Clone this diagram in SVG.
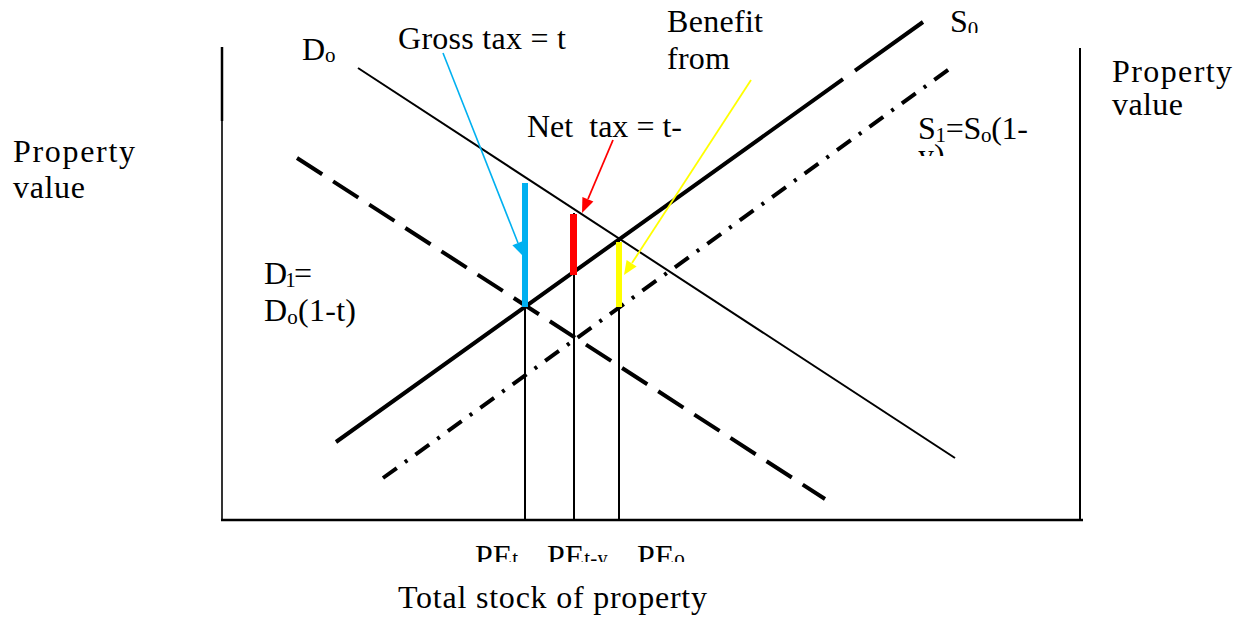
<svg xmlns="http://www.w3.org/2000/svg" width="1238" height="625" viewBox="0 0 1238 625">
<style>
text{font-family:"Liberation Serif","Times New Roman",serif;font-size:32px;fill:#000;white-space:pre}
.sub{font-size:21px}
.ax{stroke:#000;fill:none}
.crv{stroke:#000;fill:none;stroke-linecap:butt}
</style>
<defs>
<clipPath id="cS0"><rect x="930" y="0" width="80" height="33"/></clipPath>
<clipPath id="cS1"><rect x="900" y="100" width="160" height="56"/></clipPath>
<clipPath id="cPE"><rect x="450" y="530" width="280" height="32"/></clipPath>
<clipPath id="cTot"><rect x="380" y="575" width="360" height="41"/></clipPath>
</defs>
<rect width="1238" height="625" fill="#fff"/>
<g id="axes">
<line class="ax" x1="222" y1="47" x2="222" y2="121" stroke-width="2.5"/>
<line class="ax" x1="222" y1="121" x2="222" y2="521" stroke-width="1.6"/>
<line class="ax" x1="1080" y1="48" x2="1080" y2="521" stroke-width="2"/>
<line class="ax" x1="221" y1="520" x2="1083" y2="520" stroke-width="2.6"/>
</g>
<g id="connectors">
<line class="crv" id="D0" x1="358" y1="68" x2="955" y2="458" stroke-width="2"/>
<path class="crv" id="S0" d="M336,442 L843,79.2 M855,70.6 L923,22" stroke-width="4"/>
<line class="crv" id="D1" x1="297" y1="158" x2="825" y2="499" stroke-width="4" stroke-dasharray="30 13"/>
<line class="crv" id="S1" x1="383" y1="478" x2="955" y2="65" stroke-width="4" stroke-dasharray="17 10 3 10"/>
<line class="ax" x1="525" y1="183" x2="525" y2="520" stroke-width="2"/>
<line class="ax" x1="574" y1="213" x2="574" y2="520" stroke-width="2"/>
<line class="ax" x1="619" y1="241" x2="619" y2="520" stroke-width="2"/>
<rect x="522" y="183" width="6" height="124" fill="#00B0F0"/>
<rect x="570" y="214" width="7" height="61" fill="#FF0000"/>
<rect x="616" y="242" width="6" height="65" fill="#FFFF00"/>
<line x1="443" y1="53" x2="518" y2="243" stroke="#00B0F0" stroke-width="1.6"/>
<polygon points="523,256 512.4,245.2 523.6,240.8" fill="#00B0F0"/>
<line x1="613" y1="140" x2="588" y2="199" stroke="#FF0000" stroke-width="1.8"/>
<polygon points="582,213 593.4,201.5 582.4,196.9" fill="#FF0000"/>
<line x1="751" y1="80" x2="632" y2="263" stroke="#FFFF00" stroke-width="1.8"/>
<polygon points="624,275 636.6,266.6 626.6,260" fill="#FFFF00"/>
</g>
<g id="labels">
<text x="302" y="60">D<tspan class="sub" dy="2">o</tspan></text>
<text x="398" y="49" textLength="168">Gross tax = t</text>
<text x="667" y="32" textLength="96">Benefit</text>
<text x="667" y="69" textLength="63">from</text>
<text x="527" y="137" textLength="155">Net  tax = t-</text>
<g clip-path="url(#cS0)"><text x="950" y="32">S<tspan class="sub" dy="4">0</tspan></text></g>
<text x="1112" y="82" textLength="120">Property</text>
<text x="1112" y="115" textLength="71">value</text>
<g clip-path="url(#cS1)">
<text x="918" y="139" textLength="110">S<tspan class="sub" dy="3">1</tspan><tspan dy="-3">=S</tspan><tspan class="sub" dy="3">o</tspan><tspan dy="-3">(1-</tspan></text>
<text x="918" y="166">y)</text>
</g>
<text x="13" y="162" textLength="122">Property</text>
<text x="13" y="198" textLength="72">value</text>
<text x="264" y="284" textLength="48">D<tspan class="sub" dy="3">1</tspan><tspan dy="-3">=</tspan></text>
<text x="264" y="321" textLength="92">D<tspan class="sub" dy="3">o</tspan><tspan dy="-3">(1-t)</tspan></text>
<g clip-path="url(#cPE)">
<text x="475" y="567">PE<tspan class="sub" dy="-2">t</tspan></text>
<text x="547" y="567">PE<tspan class="sub" dy="-2">t-y</tspan></text>
<text x="637" y="567">PE<tspan class="sub" dy="-2">o</tspan></text>
</g>
<g clip-path="url(#cTot)"><text x="398" y="608" textLength="309">Total stock of property</text></g>
</g>
</svg>
